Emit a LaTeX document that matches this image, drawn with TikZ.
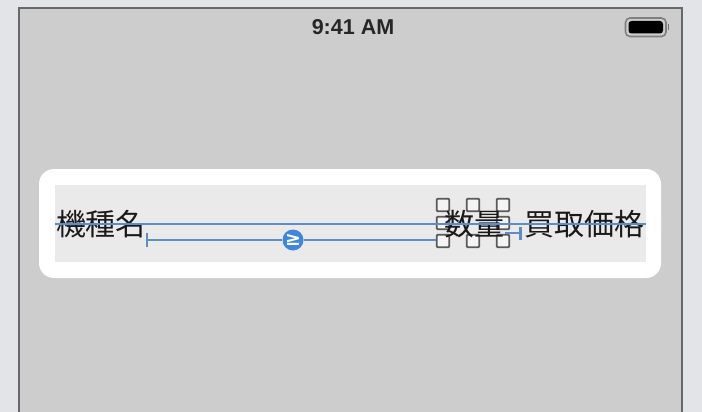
\documentclass[tikz,border=0pt]{standalone}
\usepackage{fontspec}
\setmainfont{Liberation Sans}
\newfontfamily\cjk{Noto Sans CJK JP}
\newfontfamily\clockfont{Liberation Sans}
\newfontfamily\symfont{DejaVu Sans}
\definecolor{pagebg}{HTML}{E2E4E8}
\definecolor{screenbg}{HTML}{CDCDCD}
\definecolor{framecol}{HTML}{66686A}
\definecolor{rowbg}{HTML}{EAEAEA}
\definecolor{guide}{HTML}{5F8CC4}
\definecolor{badge}{HTML}{3F86DC}
\definecolor{handlecol}{HTML}{5A5A5A}
\tikzset{
  x=1pt,y=-1pt,
  label text/.style={font=\cjk\fontsize{30}{30}\selectfont,inner sep=0pt,anchor=center,text=black!90},
  guide line/.style={draw=guide,line width=2.6pt},
  resize handle/.style={draw=handlecol,fill=rowbg!50!white,line width=1.8pt,minimum size=12.5pt,inner sep=0pt,rounded corners=1pt,shape=rectangle},
}
\begin{document}
\begin{tikzpicture}
\useasboundingbox (0,0) rectangle (702,412);
\fill[pagebg] (0,0) rectangle (702,412);
\fill[screenbg] (19,8) rectangle (682,412);
\draw[framecol,line width=1.5pt] (19,412) -- (19,8) -- (682,8) -- (682,412);
\node[font=\clockfont\bfseries\fontsize{21.5}{21.5}\selectfont,inner sep=0pt,text=black!85] (clock) at (353,27) {9:41 AM};
% battery
\draw[draw=black!50,line width=1.6pt,rounded corners=4.5pt] (625.5,18) rectangle (666,36.5);
\fill[black,rounded corners=3pt] (628.5,21) rectangle (663,33.5);
\fill[black!55] (667.5,24.5) rectangle (669,30);
% row
\fill[white,rounded corners=15pt] (39,169) rectangle (661,278);
\fill[rowbg] (55,185) rectangle (646,262);
% handles
\foreach \n/\hx/\hy in {a/443/205,b/473/205,c/503/205,d/443/223,f/503/223,g/443/241,h/473/241,i/503/241}
  \node[resize handle] (h\n) at (\hx,\hy) {};
% labels
\node[label text] (name) at (101,224) {機種名};
\node[label text] (qty) at (474,224) {数量};
\node[label text] (price) at (584.5,224) {買取価格};
% guides
\coordinate (guideL) at (55,224);
\coordinate (guideR) at (646,224);
\draw[guide line] (guideL) -- (guideR);
\coordinate (capA) at (147,240);
\node[circle,fill=badge,minimum size=21pt,inner sep=0pt] (badge) at (293,240) {};
\draw[guide line] (capA) -- (badge);
\draw[guide line] (badge) -- (badge -| hg.west);
\draw[guide line] ([yshift=7pt]capA) -- ([yshift=-7pt]capA);
\coordinate (capB) at (520.5,233);
\coordinate (stubB) at (505,233);
\draw[guide line] (stubB) -- (capB);
\draw[guide line] ([yshift=6pt]capB) -- ([yshift=-7pt]capB);
% badge glyph
\node[text=white,inner sep=0pt,font=\symfont\bfseries\fontsize{19}{19}\selectfont] at (badge) {≥};
\end{tikzpicture}
\end{document}
